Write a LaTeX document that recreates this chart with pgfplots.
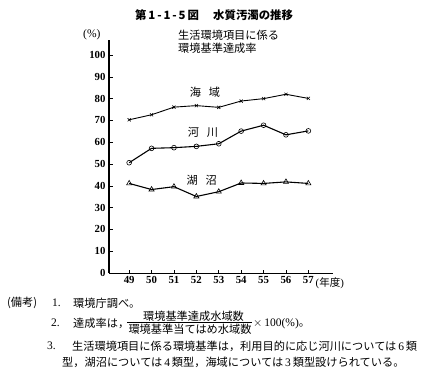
\documentclass[border=0pt]{standalone}
\usepackage{fontspec}
\setmainfont{Liberation Serif}
\newfontfamily\jp{Noto Sans CJK JP}
\usepackage{pgfplots}
\pgfplotsset{compat=1.18}
\newcommand{\jpn}{\jp\fontsize{11.2bp}{13bp}\selectfont}
\newcommand{\num}{\fontsize{11.5bp}{13bp}\selectfont}
\begin{document}
\begin{tikzpicture}
\useasboundingbox (0bp,0bp) rectangle (425bp,-374bp);
\begin{axis}[
  at={(109bp,-273bp)}, anchor=south west, scale only axis,
  width=224bp, height=233bp,
  xmin=48.1, xmax=58.1, ymin=0, ymax=106.9,
  axis lines*=left,
  x axis line style={line width=0.8pt},
  y axis line style={line width=1.2pt},
  xtick={49,50,...,57}, ytick={0,10,...,100},
  major tick length=3.5bp,
  tick style={black, line width=0.6pt},
  tick label style={font=\bfseries\fontsize{10.8bp}{12bp}\selectfont},
  /pgf/number format/assume math mode=true,
  clip=false,
]
\addplot[black, line width=0.9pt, mark=x, mark size=2.2pt, mark options={line width=0.6pt}] coordinates {(49,70.3)(50,72.6)(51,76.1)(52,76.8)(53,76.0)(54,78.9)(55,80.0)(56,82.0)(57,80.1)};
\addplot[black, line width=1.1pt, mark=o, mark size=2.4pt, mark options={fill=white, line width=0.6pt}] coordinates {(49,50.6)(50,57.2)(51,57.5)(52,58.1)(53,59.3)(54,65.1)(55,67.8)(56,63.4)(57,65.2)};
\addplot[black, line width=1.1pt, mark=triangle, mark size=3pt, mark options={fill=white, line width=0.6pt}] coordinates {(49,41.1)(50,38.3)(51,39.6)(52,35.1)(53,37.3)(54,41.3)(55,41.1)(56,41.8)(57,41.1)};
\end{axis}
% title
\node[anchor=west, inner sep=0pt, font=\jp\bfseries\fontsize{11.4bp}{13bp}\selectfont] at (135bp,-15bp) {第\,1\,-\,1\,-\,5\,図};
\node[anchor=west, inner sep=0pt, font=\jp\bfseries\fontsize{11.4bp}{13bp}\selectfont] at (213bp,-15bp) {水質汚濁の推移};
% unit and subtitle
\node[anchor=west, inner sep=0pt, font=\num] at (83bp,-35bp) {(\%)};
\node[anchor=west, inner sep=0pt, font=\jpn] at (178bp,-35bp) {生活環境項目に係る};
\node[anchor=west, inner sep=0pt, font=\jpn] at (178bp,-48bp) {環境基準達成率};
% series labels
\node[inner sep=0pt, font=\jpn] at (205bp,-92.7bp) {海\hspace{8bp}域};
\node[inner sep=0pt, font=\jpn] at (203bp,-132.7bp) {河\hspace{8bp}川};
\node[inner sep=0pt, font=\jpn] at (201.7bp,-180bp) {湖\hspace{8bp}沼};
% x unit
\node[anchor=west, inner sep=0pt, font=\fontsize{10.8bp}{12bp}\selectfont] at (315.5bp,-283bp) {({\jp\fontsize{10.5bp}{12bp}\selectfont 年度})};
% notes
\node[anchor=west, inner sep=0pt, font=\jpn] at (7bp,-303bp) {(備考)};
\node[anchor=west, inner sep=0pt, font=\num] at (52bp,-303bp) {1.};
\node[anchor=west, inner sep=0pt, font=\jpn] at (73bp,-303bp) {環境庁調べ。};
\node[anchor=west, inner sep=0pt, font=\num] at (51bp,-323bp) {2.};
\node[anchor=west, inner sep=0pt, font=\jpn] at (73bp,-323bp) {達成率は，};
\node[inner sep=0pt, font=\jpn] at (193.5bp,-316.5bp) {環境基準達成水域数};
\draw[line width=0.5pt] (127bp,-322.5bp) -- (252bp,-322.5bp);
\node[inner sep=0pt, font=\jpn] at (190bp,-329bp) {環境基準当てはめ水域数};
\node[anchor=west, inner sep=0pt, font=\num] at (253bp,-324bp) {$\times$\,100(\%){\jpn 。}};
\node[anchor=west, inner sep=0pt, font=\num] at (47bp,-346bp) {3.};
\node[anchor=west, inner sep=0pt, font=\jpn] at (72bp,-346bp) {生活環境項目に係る環境基準は，利用目的に応じ河川については\,{\rmfamily\fontsize{11.5bp}{13bp}\selectfont 6}\,類};
\node[anchor=west, inner sep=0pt, font=\jpn] at (62bp,-362bp) {型，湖沼については\,{\rmfamily\fontsize{11.5bp}{13bp}\selectfont 4}\,類型，海域については\,{\rmfamily\fontsize{11.5bp}{13bp}\selectfont 3}\,類型設けられている。};
\end{tikzpicture}
\end{document}
